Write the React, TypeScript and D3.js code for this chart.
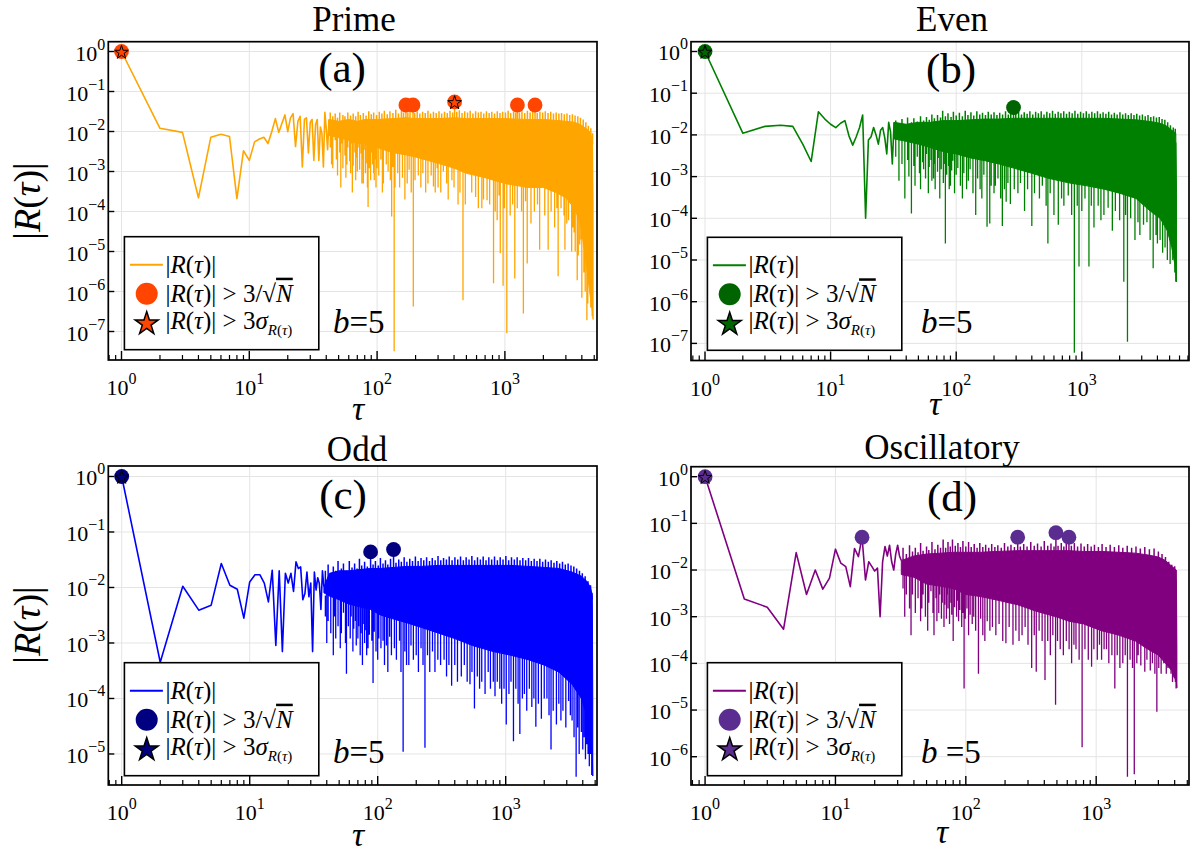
import React from "react";
import * as d3 from "d3";

type P2 = [number, number];
type P3 = [number, number, number];

// ---------------- DATA ----------------
const titles = ["Prime", "Even", "Odd", "Oscillatory"];
const tags = ["(a)", "(b)", "(c)", "(d)"];
const bLabels = ["b=5", "b=5", "b=5", "b =5"];
const lineColors = ["#FFA500", "#008000", "#0000FF", "#800080"];
const markerColors = ["#FF4500", "#006400", "#000080", "#5c2d91"];

// sparse early lags: [tau, |R|]
const primeSparse: P2[] = [[1,1],[2,0.012],[3,0.0095],[4,0.00022],[5,0.0072],[6,0.0085],[7,0.0075],[8,0.00021],[9,0.0033],[10,0.0019],[11,0.0055],[12,0.0065],[13,0.0072],[14,0.005],[15,0.01],[16,0.021],[17,0.0095],[18,0.016],[19,0.026],[20,0.0099],[21,0.022],[22,0.028],[23,0.0042],[24,0.018],[25,0.024],[26,0.0013],[27,0.02],[28,0.022],[29,0.0029],[30,0.017],[31,0.02],[32,0.0019],[33,0.015],[34,0.02],[35,0.0019],[36,0.013],[37,0.009],[38,0.0013],[39,0.03],[40,0.012],[41,0.0035],[42,0.02]];
const evenSparse: P2[] = [[1,1],[2,0.011],[3,0.016],[4,0.017],[5,0.016],[6,0.006],[7,0.0023],[8,0.036],[9,0.024],[10,0.018],[11,0.015],[12,0.019],[13,0.022],[14,0.0095],[15,0.0057],[16,0.009],[17,0.015],[18,0.03],[19,0.0001],[20,0.0075],[21,0.009],[22,0.015],[23,0.01],[24,0.006],[25,0.013],[26,0.015],[27,0.0085],[28,0.0035],[29,0.02],[30,0.012],[31,0.002],[32,0.02]];
const oddSparse: P2[] = [[1,1],[2,0.00045],[3,0.0105],[4,0.0039],[5,0.0048],[6,0.027],[7,0.011],[8,0.0093],[9,0.0028],[10,0.0126],[11,0.017],[12,0.017],[13,0.012],[14,0.0055],[15,0.0205],[16,0.0009],[17,0.02],[18,0.0007],[19,0.018],[20,0.012],[21,0.018],[22,0.0085],[23,0.029],[24,0.022],[25,0.0235],[26,0.006],[27,0.0078],[28,0.019],[29,0.0068],[30,0.012],[31,0.0007],[32,0.019],[33,0.009],[34,0.015],[35,0.0118],[36,0.004],[37,0.02],[38,0.0103]];
const oscSparse: P2[] = [[1,1],[2,0.0024],[3,0.0016],[4,0.00054],[5,0.0236],[6,0.003],[7,0.01],[8,0.0039],[9,0.0067],[10,0.028],[11,0.014],[12,0.0118],[13,0.0044],[14,0.029],[15,0.0194],[16,0.0505],[17,0.0061],[18,0.015],[19,0.012],[20,0.0095],[21,0.011],[22,0.001],[23,0.015],[24,0.032],[25,0.02],[26,0.034],[27,0.015],[28,0.01],[29,0.022],[30,0.034],[31,0.02],[32,0.016]];

// dense region: solid fill [tau, top of solid fill, bottom of solid fill]
const primeBand: P3[] = [[42,0.02,0.008],[50,0.018,0.007],[60,0.02,0.006],[70,0.018,0.005],[80,0.02,0.005],[100,0.02,0.004],[130,0.021,0.003],[168,0.022,0.0026],[200,0.021,0.0023],[300,0.021,0.0016],[404,0.022,0.0012],[500,0.021,0.0009],[700,0.021,0.0007],[1000,0.021,0.0005],[1500,0.02,0.0004],[2000,0.02,0.0004],[2500,0.019,0.0003],[3000,0.018,0.00022],[3500,0.017,0.00012],[3900,0.015,0.00005],[4300,0.012,0.000006],[4600,0.01,0.000001],[4850,0.006,0.0000003],[4900,0.0002,0.0000002]];
const evenBand: P3[] = [[32,0.02,0.008],[40,0.018,0.007],[50,0.02,0.006],[62,0.02,0.005],[78,0.022,0.004],[100,0.022,0.0035],[130,0.023,0.0028],[170,0.024,0.0024],[220,0.024,0.002],[286,0.025,0.0016],[400,0.025,0.0012],[550,0.025,0.0009],[800,0.025,0.0007],[1100,0.025,0.0006],[1500,0.025,0.0005],[2000,0.024,0.0004],[2700,0.023,0.0003],[3500,0.021,0.00015],[4200,0.019,0.0001],[4800,0.016,0.00005],[5200,0.013,0.00002],[5600,0.011,0.000006],[5680,0.0004,0.000003]];
const oddBand: P3[] = [[38,0.0103,0.008],[42,0.018,0.007],[50,0.02,0.006],[60,0.02,0.005],[72,0.021,0.0045],[88,0.022,0.004],[105,0.022,0.0032],[133,0.023,0.0027],[170,0.024,0.0023],[220,0.024,0.0019],[300,0.025,0.0015],[400,0.025,0.0012],[550,0.025,0.0009],[800,0.025,0.0007],[1100,0.025,0.0006],[1500,0.024,0.0005],[2000,0.023,0.0004],[2600,0.022,0.0003],[3300,0.019,0.00018],[3900,0.016,0.0001],[4300,0.013,0.00005],[4600,0.01,0.00002],[4750,0.007,0.00001],[4790,0.0001,0.000004]];
const oscBand: P3[] = [[32,0.016,0.008],[40,0.02,0.007],[50,0.022,0.005],[64,0.023,0.0045],[80,0.024,0.004],[100,0.024,0.003],[130,0.024,0.0027],[170,0.025,0.0023],[250,0.026,0.0018],[350,0.026,0.0013],[491,0.026,0.001],[618,0.026,0.0008],[800,0.025,0.0007],[1100,0.025,0.0005],[1500,0.024,0.0004],[2000,0.023,0.0003],[2500,0.021,0.0002],[3000,0.019,0.00015],[3400,0.016,0.0001],[3800,0.012,0.00007],[4120,0.01,0.00004],[4160,0.0002,0.00003]];

// upward excursions above the solid fill: [tau, |R|]
const primePeaks: P2[] = [[43,0.03],[45,0.024],[47,0.028],[49,0.022],[51,0.03],[54,0.026],[56,0.024],[59,0.03],[62,0.025],[65,0.028],[68,0.024],[71,0.031],[74,0.026],[78,0.029],[82,0.025],[86,0.032],[90,0.027],[94,0.03],[99,0.026],[104,0.031],[109,0.028],[114,0.033],[120,0.027],[126,0.032],[133,0.029],[140,0.035],[147,0.028],[155,0.033],[161,0.03],[168,0.046],[174,0.03],[181,0.033],[191,0.046],[197,0.029],[206,0.032],[216,0.028],[227,0.031],[238,0.029],[250,0.033],[262,0.028],[276,0.031],[290,0.029],[305,0.032],[320,0.028],[337,0.031],[354,0.029],[372,0.033],[390,0.03],[404,0.055],[420,0.031],[440,0.034],[462,0.029],[485,0.032],[510,0.03],[535,0.033],[562,0.028],[590,0.032],[620,0.03],[650,0.031],[683,0.028],[717,0.032],[753,0.029],[790,0.031],[830,0.028],[872,0.032],[915,0.029],[960,0.031],[1010,0.03],[1060,0.033],[1110,0.029],[1170,0.032],[1215,0.03],[1253,0.046],[1300,0.03],[1360,0.032],[1430,0.029],[1500,0.033],[1575,0.03],[1650,0.031],[1721,0.046],[1790,0.029],[1880,0.031],[1975,0.03],[2070,0.032],[2175,0.029],[2285,0.031],[2400,0.028],[2520,0.03],[2645,0.028],[2775,0.029],[2915,0.027],[3060,0.028],[3215,0.026],[3375,0.027],[3540,0.025],[3720,0.024],[3900,0.022],[4100,0.02],[4300,0.017],[4500,0.014],[4700,0.012],[4850,0.009]];
const evenPeaks: P2[] = [[33,0.022],[35,0.016],[37,0.024],[39,0.018],[41,0.026],[44,0.02],[46,0.025],[49,0.021],[52,0.028],[55,0.022],[58,0.027],[61,0.023],[64,0.031],[67,0.025],[71,0.03],[75,0.026],[78,0.038],[82,0.028],[86,0.033],[91,0.027],[95,0.036],[100,0.029],[106,0.034],[112,0.028],[118,0.038],[124,0.03],[131,0.035],[138,0.029],[146,0.037],[154,0.031],[162,0.034],[171,0.03],[180,0.036],[190,0.031],[200,0.035],[211,0.03],[222,0.034],[234,0.031],[247,0.037],[260,0.031],[272,0.034],[286,0.0454],[298,0.032],[314,0.036],[331,0.031],[348,0.035],[367,0.032],[386,0.037],[407,0.031],[429,0.036],[451,0.033],[475,0.037],[500,0.031],[527,0.036],[555,0.033],[585,0.038],[615,0.032],[648,0.036],[682,0.033],[718,0.037],[756,0.032],[796,0.036],[838,0.033],[882,0.038],[929,0.032],[978,0.036],[1030,0.033],[1085,0.037],[1142,0.032],[1202,0.036],[1266,0.033],[1333,0.037],[1403,0.032],[1477,0.035],[1555,0.032],[1637,0.036],[1724,0.031],[1815,0.034],[1911,0.031],[2012,0.035],[2118,0.031],[2230,0.033],[2348,0.03],[2472,0.033],[2602,0.03],[2740,0.032],[2885,0.029],[3037,0.031],[3197,0.028],[3366,0.03],[3544,0.027],[3731,0.028],[3928,0.026],[4135,0.027],[4354,0.024],[4584,0.023],[4826,0.02],[5080,0.017],[5350,0.015],[5550,0.014]];
const oddPeaks: P2[] = [[39,0.02],[41,0.026],[43,0.018],[45,0.024],[47,0.02],[49,0.03],[52,0.022],[54,0.027],[57,0.02],[60,0.03],[63,0.023],[66,0.027],[69,0.022],[72,0.033],[75,0.025],[79,0.029],[83,0.024],[88,0.0438],[92,0.026],[96,0.03],[101,0.025],[105,0.034],[110,0.027],[115,0.031],[120,0.026],[126,0.033],[133,0.0484],[139,0.028],[146,0.032],[153,0.029],[161,0.035],[169,0.029],[178,0.033],[187,0.03],[197,0.036],[207,0.03],[218,0.034],[229,0.031],[241,0.035],[254,0.03],[267,0.034],[281,0.031],[296,0.037],[311,0.031],[327,0.034],[344,0.032],[362,0.036],[381,0.031],[401,0.035],[422,0.032],[444,0.036],[467,0.031],[491,0.035],[517,0.032],[544,0.037],[572,0.031],[602,0.035],[634,0.032],[667,0.036],[702,0.031],[738,0.035],[777,0.032],[818,0.036],[861,0.031],[906,0.035],[953,0.032],[1003,0.037],[1055,0.031],[1110,0.035],[1168,0.032],[1229,0.035],[1294,0.031],[1361,0.034],[1432,0.031],[1507,0.034],[1586,0.03],[1669,0.033],[1756,0.03],[1848,0.033],[1944,0.029],[2046,0.032],[2153,0.029],[2265,0.031],[2384,0.028],[2508,0.03],[2639,0.027],[2777,0.029],[2922,0.026],[3075,0.027],[3236,0.025],[3405,0.024],[3583,0.022],[3770,0.02],[3967,0.018],[4175,0.016],[4393,0.013],[4600,0.011],[4720,0.008]];
const oscPeaks: P2[] = [[33,0.03],[35,0.022],[37,0.034],[39,0.025],[41,0.03],[43,0.024],[45,0.038],[47,0.026],[50,0.032],[52,0.027],[55,0.04],[58,0.028],[61,0.035],[64,0.03],[67,0.045],[70,0.03],[73,0.04],[76,0.032],[79,0.045],[83,0.033],[87,0.038],[91,0.031],[95,0.042],[100,0.032],[105,0.04],[110,0.031],[116,0.036],[122,0.03],[128,0.038],[135,0.031],[142,0.035],[150,0.03],[158,0.036],[167,0.031],[176,0.034],[187,0.03],[198,0.038],[210,0.032],[222,0.035],[236,0.031],[250,0.0505],[262,0.032],[278,0.036],[295,0.032],[315,0.04],[335,0.033],[355,0.037],[378,0.032],[400,0.042],[425,0.033],[450,0.037],[475,0.032],[491,0.063],[510,0.033],[540,0.038],[565,0.032],[590,0.036],[618,0.0505],[645,0.033],[680,0.038],[720,0.032],[765,0.037],[810,0.032],[860,0.036],[915,0.032],[970,0.035],[1040,0.031],[1110,0.036],[1190,0.031],[1280,0.035],[1380,0.031],[1490,0.034],[1600,0.03],[1730,0.033],[1870,0.03],[2020,0.032],[2180,0.029],[2360,0.031],[2560,0.028],[2780,0.029],[3000,0.025],[3200,0.022],[3400,0.019],[3600,0.015],[3800,0.013],[4000,0.012]];

// downward excursions below the solid fill: [tau, |R|]
const primeSpikes: P2[] = [[43,0.004],[44,0.0015],[45,0.0012],[47,0.006],[48,0.002],[49,0.0008],[51,0.003],[52,0.0004],[53,0.005],[54,0.0012],[56,0.0025],[57,0.0007],[58,0.0015],[59,0.004],[61,0.0018],[62,0.0009],[63,0.005],[64,0.0003],[65,0.0014],[67,0.003],[68,0.0006],[69,0.0022],[70,0.001],[71,0.004],[73,0.0011],[75,0.0028],[76,0.0005],[77,0.002],[78,0.0005],[79,0.0035],[81,0.0009],[83,0.0016],[84,0.0004],[85,0.00013],[86,0.0025],[87,0.0012],[89,0.0006],[91,0.003],[92,0.0015],[94,0.0009],[95,0.0006],[97,0.002],[98,0.0004],[100,0.0012],[103,0.0008],[107,0.002],[110,0.0003],[112,0.0005],[118,0.0015],[122,0.001],[127,0.0006],[130,0.000075],[133,0.0013],[136,3.2e-8],[138,0.0004],[145,0.0009],[150,0.0004],[158,0.0007],[165,0.0002],[172,0.0005],[178,0.0011],[185,0.0003],[192,4.2e-7],[198,0.0006],[210,0.0008],[220,0.0004],[228,0.0009],[240,0.0003],[250,0.0005],[265,0.0008],[276,0.00042],[285,0.0003],[295,0.0012],[300,0.0004],[315,0.0003],[330,0.001],[350,0.0005],[360,0.0002],[385,0.0006],[400,0.0004],[430,0.00015],[445,0.0003],[470,6e-7],[490,0.00015],[525,0.0011],[550,0.0003],[590,0.00023],[620,0.00012],[660,0.00012],[680,0.0002],[725,0.00019],[760,0.00015],[815,1.6e-6],[840,0.0001],[870,0.00006],[900,0.00025],[920,9e-6],[968,1.4e-6],[990,0.00012],[1035,9e-8],[1100,0.00008],[1150,0.00015],[1195,2.1e-6],[1250,0.00012],[1350,0.0001],[1395,2.8e-7],[1450,0.00018],[1495,5e-6],[1600,0.00005],[1700,0.0001],[1800,0.00015],[1870,1.1e-5],[2050,0.00008],[2180,1.1e-5],[2300,0.0001],[2450,0.00004],[2550,0.00012],[2610,2.4e-6],[2750,0.00012],[2900,0.00008],[2950,1.1e-5],[3050,0.00005],[3150,0.00006],[3330,1e-5],[3400,0.00004],[3480,0.00003],[3550,1e-5],[3680,1.9e-6],[3750,8e-6],[3850,1.5e-5],[3950,2e-5],[4000,7e-7],[4150,3e-6],[4250,1e-6],[4380,1.9e-7],[4450,5e-7],[4550,3e-6],[4700,4e-7],[4820,2.4e-7]];
const evenSpikes: P2[] = [[33,0.003],[35,0.0008],[37,0.002],[39,0.0003],[41,0.0025],[42,0.001],[44,0.00013],[46,0.0018],[47,0.0006],[49,0.003],[51,0.0012],[52,0.0005],[54,0.0022],[55,0.0015],[57,0.0009],[58,0.0035],[60,0.0004],[61,0.0017],[63,0.0025],[64,0.0008],[66,0.0009],[67,0.002],[68,0.0005],[71,0.0013],[72,0.0028],[74,0.0003],[76,0.0015],[79,0.0007],[80,0.002],[82,0.000025],[84,0.0011],[87,0.0018],[88,0.0005],[90,0.0006],[92,0.0014],[94,0.0024],[97,0.0004],[100,0.0011],[103,0.0016],[108,0.0006],[112,0.0003],[115,0.0012],[121,0.0005],[125,0.0008],[129,0.0015],[136,0.0004],[143,0.00012],[148,0.0009],[155,0.0005],[160,0.0003],[166,0.0011],[176,0.000063],[185,0.000075],[190,0.0006],[200,0.0004],[205,0.0006],[215,0.0009],[226,0.0003],[233,0.000065],[242,0.0005],[250,0.00025],[258,0.0007],[270,0.00022],[290,0.0005],[310,0.0004],[325,0.0007],[350,0.00015],[370,0.0005],[400,0.000065],[420,0.0004],[460,0.0003],[485,0.0006],[520,0.0002],[537,0.000025],[560,0.0004],[600,0.00012],[650,0.00007],[690,0.0003],[720,0.0002],[780,0.00035],[830,0.00012],[872,6e-8],[920,0.0002],[950,7e-6],[1000,0.00015],[1060,0.0003],[1140,7e-6],[1190,0.0002],[1250,0.00006],[1350,0.0002],[1420,0.00009],[1500,0.00012],[1620,0.00018],[1750,0.00005],[1850,0.00015],[2000,0.00009],[2160,3e-6],[2230,0.00012],[2310,1.1e-7],[2450,0.0001],[2650,3e-5],[2800,0.00008],[2900,0.00004],[3100,0.00007],[3300,0.00008],[3500,0.00003],[3700,6.3e-6],[3900,0.00004],[4000,0.000025],[4200,0.00003],[4400,0.000015],[4600,0.00002],[4800,0.00001],[5050,0.000008],[5300,0.00001],[5500,0.000005],[5600,0.000003]];
const oddSpikes: P2[] = [[39,0.003],[40,0.001],[41,0.0025],[43,0.0015],[45,0.0006],[46,0.003],[47,0.0012],[49,0.002],[51,0.0008],[52,0.0015],[54,0.0035],[56,0.001],[57,0.00028],[59,0.002],[61,0.0012],[62,0.003],[64,0.0007],[65,0.0018],[67,0.0025],[68,0.0009],[70,0.0012],[71,0.002],[73,0.0006],[74,0.0015],[76,0.0004],[78,0.0022],[79,0.001],[81,0.0017],[82,0.0006],[84,0.0008],[86,0.0014],[90,0.0011],[92,0.00019],[94,0.0016],[97,0.0007],[100,0.0005],[102,0.0012],[106,0.0008],[110,0.0011],[113,0.0004],[117,0.0009],[120,0.0003],[124,0.0013],[128,0.0006],[135,0.0008],[140,0.0005],[148,0.0011],[152,0.0003],[158,1.1e-5],[163,0.0007],[168,0.0004],[175,0.0004],[182,0.0009],[190,0.0005],[200,0.0006],[208,0.0003],[218,0.0008],[226,0.0004],[234,1.3e-5],[245,0.0006],[255,0.0003],[268,0.0007],[280,0.0003],[295,0.0005],[310,0.0004],[330,0.0005],[345,0.00025],[360,0.0004],[378,0.00017],[400,0.0004],[420,0.0002],[450,0.00025],[475,0.0004],[500,0.0002],[526,0.00018],[545,0.0003],[570,0.000066],[600,0.00025],[625,0.00015],[650,0.0002],[690,0.00012],[730,0.0003],[760,0.00015],[800,0.0002],[825,0.00011],[860,0.0002],[900,0.00015],[930,0.00008],[970,0.00015],[1010,0.000034],[1060,0.00012],[1100,0.0002],[1150,0.000017],[1200,0.00015],[1250,0.00008],[1290,0.000023],[1350,0.0001],[1400,0.00012],[1460,0.00006],[1530,0.00015],[1600,0.00007],[1660,0.0001],[1720,0.000031],[1800,0.00008],[1900,0.000043],[2000,0.0001],[2100,0.0001],[2180,0.00005],[2260,0.000012],[2350,0.00006],[2490,0.000034],[2600,0.00008],[2700,0.00004],[2800,0.00006],[2950,0.00003],[3100,0.00009],[3200,0.00005],[3300,0.00004],[3420,0.00002],[3550,0.0000039],[3650,0.00003],[3750,0.00001],[3900,0.000025],[4000,0.000012],[4100,0.00002],[4200,0.000008],[4300,0.000015],[4400,0.00001],[4500,0.000006],[4600,0.00001],[4700,0.0000042]];
const oscSpikes: P2[] = [[33,0.004],[34,0.001],[35,0.003],[37,0.0015],[38,0.0004],[39,0.003],[41,0.0012],[43,0.0025],[45,0.0008],[46,0.0015],[47,0.003],[49,0.001],[51,0.0005],[52,0.002],[54,0.0035],[56,0.0012],[57,0.0004],[59,0.0025],[60,0.0008],[62,0.0012],[63,0.003],[65,0.0009],[66,0.002],[68,0.0006],[69,0.0018],[71,0.0009],[72,0.003],[73,0.0015],[75,0.0007],[77,0.002],[78,0.0011],[80,0.0003],[82,0.0016],[85,0.001],[86,0.0022],[88,0.0008],[90,0.0014],[93,0.0006],[95,0.0012],[97,0.000029],[99,0.0009],[102,0.0015],[105,0.0004],[108,0.0011],[112,0.0007],[115,0.001],[119,0.0005],[125,0.00006],[130,0.0009],[135,0.0004],[140,0.0003],[146,0.0008],[153,0.0005],[160,0.0006],[170,0.0004],[180,0.0007],[192,0.0003],[203,0.00027],[215,0.0006],[230,0.00025],[242,0.0005],[256,0.0003],[270,0.0004],[285,0.0006],[300,0.00025],[320,0.00008],[335,0.0004],[347,0.000066],[365,0.0005],[385,0.0003],[405,0.000044],[425,0.0003],[445,0.00015],[465,0.0004],[488,0.000013],[505,0.0003],[530,0.0002],[560,0.00015],[590,0.0003],[620,0.0002],[648,0.0001],[675,0.00025],[700,0.0002],[740,0.00012],[780,1.6e-6],[820,0.0002],[870,0.00012],[922,0.000085],[960,0.0002],[1020,0.00012],[1060,0.00025],[1100,0.00012],[1150,0.0002],[1200,0.0002],[1250,0.0001],[1320,0.00015],[1390,0.000029],[1450,0.00015],[1520,0.00008],[1600,0.0001],[1670,0.00015],[1737,3.7e-7],[1820,0.00012],[1900,0.00008],[1960,4.2e-7],[2050,0.0001],[2100,0.00015],[2200,0.00009],[2360,0.000066],[2450,0.00012],[2600,0.00007],[2700,0.0001],[2820,0.00006],[2920,0.0000092],[3020,0.00008],[3150,0.00006],[3300,0.0001],[3450,0.00006],[3550,0.00008],[3670,0.00008],[3750,0.00006],[3850,0.00004],[3950,0.00005],[4050,0.00004],[4100,0.000029]];

// significant points
const primeCircles: P2[] = [[1,1],[168,0.046],[191,0.046],[404,0.055],[1253,0.046],[1721,0.046]];
const primeStars: P2[] = [[1,1],[404,0.055]];
const evenCircles: P2[] = [[1,1],[286,0.0454]];
const evenStars: P2[] = [[1,1]];
const oddCircles: P2[] = [[1,1],[88,0.0438],[133,0.0484]];
const oddStars: P2[] = [[1,1]];
const oscCircles: P2[] = [[1,1],[16,0.0505],[250,0.0505],[491,0.063],[618,0.0505]];
const oscStars: P2[] = [[1,1]];

// axis extents (log10 exponents)
const xLogDomains: P2[] = [[-0.1033, 3.7207], [-0.1115, 3.8535], [-0.1047, 3.7133], [-0.108, 3.712]];
const yLogDomains: P2[] = [[-7.7125, 0.245], [-7.41, 0.235], [-5.559, 0.189], [-6.606, 0.214]];

// ---------------- LAYOUT ----------------
const layouts = [
  { left: 108.3, right: 597, top: 41.7, bottom: 360, legend: [124.4, 236.7], title: [354, 31], tag: [342, 82], xl: [358, 420], yl: [40, 201], bt: [333, 333] },
  { left: 691, right: 1189, top: 41.7, bottom: 360.5, legend: [707.4, 237.3], title: [952, 31], tag: [951, 83], xl: [935, 415], yl: null, bt: [921, 333] },
  { left: 108.3, right: 597, top: 466, bottom: 785, legend: [124.4, 662.7], title: [357, 461], tag: [343, 509], xl: [358, 846], yl: [40, 625], bt: [333, 763] },
  { left: 691, right: 1189, top: 466.7, bottom: 785, legend: [707.4, 662.7], title: [942, 459], tag: [952, 511], xl: [942, 843], yl: null, bt: [921, 763] },
];

const sparseSets = [primeSparse, evenSparse, oddSparse, oscSparse];
const bandSets = [primeBand, evenBand, oddBand, oscBand];
const peakSets = [primePeaks, evenPeaks, oddPeaks, oscPeaks];
const spikeSets = [primeSpikes, evenSpikes, oddSpikes, oscSpikes];
const circleSets = [primeCircles, evenCircles, oddCircles, oscCircles];
const starSets = [primeStars, evenStars, oddStars, oscStars];

const FONT = "'Liberation Serif', 'Times New Roman', serif";
const sup = (n: number) => (n < 0 ? "\u2212" + Math.abs(n) : String(n));

const RT = () => (
  <>
    <tspan>|</tspan>
    <tspan fontStyle="italic">R</tspan>
    <tspan>(</tspan>
    <tspan fontStyle="italic">τ</tspan>
    <tspan>)|</tspan>
  </>
);

// top of solid fill at tau (log-log interpolation between band samples; drawing helper)
function bandTop(band: P3[], t: number): number {
  const lt = Math.log10(t);
  for (let k = 0; k < band.length - 1; k++) {
    const a = band[k], b = band[k + 1];
    if (t >= a[0] && t <= b[0]) {
      const f = (lt - Math.log10(a[0])) / (Math.log10(b[0]) - Math.log10(a[0]));
      return 10 ** (Math.log10(a[1]) + f * (Math.log10(b[1]) - Math.log10(a[1])));
    }
  }
  return band[band.length - 1][1];
}

function Panel({ i }: { i: number }) {
  const L = layouts[i];
  const xd = xLogDomains[i];
  const yd = yLogDomains[i];
  const x = d3.scaleLog().domain([10 ** xd[0], 10 ** xd[1]]).range([L.left, L.right]);
  const y = d3.scaleLog().domain([10 ** yd[0], 10 ** yd[1]]).range([L.bottom, L.top]);
  const lc = lineColors[i];
  const mc = markerColors[i];

  const xMajor = d3.range(Math.ceil(xd[0]), Math.floor(xd[1]) + 1);
  const yMajor = d3.range(Math.ceil(yd[0]), Math.floor(yd[1]) + 1);
  const xMinor: number[] = [];
  for (let k = Math.floor(xd[0]); k <= Math.floor(xd[1]); k++) {
    for (let m = 2; m <= 9; m++) {
      const v = m * 10 ** k;
      if (Math.log10(v) > xd[0] && Math.log10(v) < xd[1]) xMinor.push(v);
    }
  }

  const band = bandSets[i];
  const line = d3.line<P2>().x((d) => x(d[0])).y((d) => y(d[1]));
  const area = d3.area<P3>().x((d) => x(d[0])).y0((d) => y(d[2])).y1((d) => y(d[1]));
  const seg = (t: number, a: number, b: number) =>
    `M${x(t).toFixed(2)},${y(a).toFixed(2)}L${x(t).toFixed(2)},${y(b).toFixed(2)}`;
  const spikePath = spikeSets[i].map((d) => seg(d[0], bandTop(band, d[0]) * 0.6, d[1])).join("");
  const peakPath = peakSets[i].map((d) => seg(d[0], bandTop(band, d[0]) * 0.8, d[1])).join("");
  const starBig = d3.symbol().type(d3.symbolStar).size(165)();
  const starSmall = d3.symbol().type(d3.symbolStar).size(58)();
  const clipId = `clip${i}`;
  const [lx, ly] = L.legend;
  const rows = [ly + 28, ly + 57, ly + 86];
  const tx = lx + 41;

  return (
    <g>
      <defs>
        <clipPath id={clipId}>
          <rect x={L.left} y={L.top} width={L.right - L.left} height={L.bottom - L.top} />
        </clipPath>
      </defs>
      {xMajor.map((k) => (
        <line key={"gx" + k} x1={x(10 ** k)} x2={x(10 ** k)} y1={L.top} y2={L.bottom} stroke="#e4e4e4" strokeWidth={1} />
      ))}
      {yMajor.map((k) => (
        <line key={"gy" + k} x1={L.left} x2={L.right} y1={y(10 ** k)} y2={y(10 ** k)} stroke="#e4e4e4" strokeWidth={1} />
      ))}
      <g clipPath={`url(#${clipId})`}>
        <path d={area(band) || ""} fill={lc} stroke={lc} strokeWidth={1} strokeLinejoin="round" />
        <path d={spikePath} stroke={lc} strokeWidth={1.3} fill="none" />
        <path d={peakPath} stroke={lc} strokeWidth={1.5} fill="none" />
        <path d={line(sparseSets[i]) || ""} stroke={lc} strokeWidth={1.6} fill="none" strokeLinejoin="round" />
      </g>
      {circleSets[i].map((d, j) => (
        <circle key={"c" + j} cx={x(d[0])} cy={y(d[1])} r={7.4} fill={mc} />
      ))}
      {starSets[i].map((d, j) => (
        <path key={"s" + j} d={starSmall || ""} transform={`translate(${x(d[0])},${y(d[1]) + 1})`} fill={mc} stroke="#000" strokeWidth={1} />
      ))}
      <rect x={L.left} y={L.top} width={L.right - L.left} height={L.bottom - L.top} fill="none" stroke="#000" strokeWidth={1.7} />
      {xMajor.map((k) => (
        <line key={"tx" + k} x1={x(10 ** k)} x2={x(10 ** k)} y1={L.bottom} y2={L.bottom - 9} stroke="#000" strokeWidth={1.4} />
      ))}
      {xMinor.map((v, j) => (
        <line key={"tm" + j} x1={x(v)} x2={x(v)} y1={L.bottom} y2={L.bottom - 5} stroke="#000" strokeWidth={1.2} />
      ))}
      {yMajor.map((k) => (
        <line key={"ty" + k} x1={L.left} x2={L.left + 6} y1={y(10 ** k)} y2={y(10 ** k)} stroke="#000" strokeWidth={1.4} />
      ))}
      {xMajor.map((k) => (
        <text key={"lx" + k} x={x(10 ** k)} y={L.bottom + 35} textAnchor="middle" fontFamily={FONT} fontSize={22} fill="#000">
          10<tspan fontSize={16} dy={-11}>{sup(k)}</tspan>
        </text>
      ))}
      {yMajor.map((k) => (
        <text key={"ly" + k} x={L.left - 3} y={y(10 ** k) + 9} textAnchor="end" fontFamily={FONT} fontSize={22} fill="#000">
          10<tspan fontSize={16} dy={-11}>{sup(k)}</tspan>
        </text>
      ))}
      <rect x={lx} y={ly} width={194.4} height={113} fill="#fff" stroke="#000" strokeWidth={1.6} />
      <line x1={lx + 5.5} x2={lx + 38.5} y1={rows[0]} y2={rows[0]} stroke={lc} strokeWidth={2} />
      <circle cx={lx + 22.3} cy={rows[1]} r={11} fill={mc} />
      <path d={starBig || ""} transform={`translate(${lx + 22.3},${rows[2] + 1})`} fill={mc} stroke="#000" strokeWidth={1.5} />
      <text x={tx} y={rows[0] + 8} fontFamily={FONT} fontSize={25} fill="#000">
        <RT />
      </text>
      <text x={tx} y={rows[1] + 8} fontFamily={FONT} fontSize={25} fill="#000">
        <RT />
        <tspan> &gt; 3/√</tspan>
        <tspan fontStyle="italic" style={{ textDecoration: "overline" }}>N</tspan>
      </text>
      <text x={tx} y={rows[2] + 6} fontFamily={FONT} fontSize={25} fill="#000">
        <RT />
        <tspan> &gt; 3</tspan>
        <tspan fontStyle="italic">σ</tspan>
        <tspan fontSize={15} dy={6}>
          <tspan fontStyle="italic">R</tspan>(<tspan fontStyle="italic">τ</tspan>)
        </tspan>
      </text>
      <text x={L.bt[0]} y={L.bt[1]} fontFamily={FONT} fontSize={33} fill="#000">
        <tspan fontStyle="italic">b</tspan>
        {bLabels[i].slice(1)}
      </text>
      <text x={L.title[0]} y={L.title[1]} textAnchor="middle" fontFamily={FONT} fontSize={35} fill="#000">
        {titles[i]}
      </text>
      <text x={L.tag[0]} y={L.tag[1]} textAnchor="middle" fontFamily={FONT} fontSize={43} fill="#000">
        {tags[i]}
      </text>
      <text x={L.xl[0]} y={L.xl[1]} textAnchor="middle" fontFamily={FONT} fontSize={34} fontStyle="italic" fill="#000">
        τ
      </text>
      {L.yl && (
        <text transform={`translate(${L.yl[0]},${L.yl[1]}) rotate(-90)`} textAnchor="middle" fontFamily={FONT} fontSize={38} fill="#000">
          <RT />
        </text>
      )}
    </g>
  );
}

export default function App() {
  return (
    <svg width={1195} height={855} style={{ position: "absolute", left: 0, top: 0, background: "#fff" }}>
      <rect x={0} y={0} width={1195} height={855} fill="#fff" />
      {[0, 1, 2, 3].map((i) => (
        <Panel key={i} i={i} />
      ))}
    </svg>
  );
}
